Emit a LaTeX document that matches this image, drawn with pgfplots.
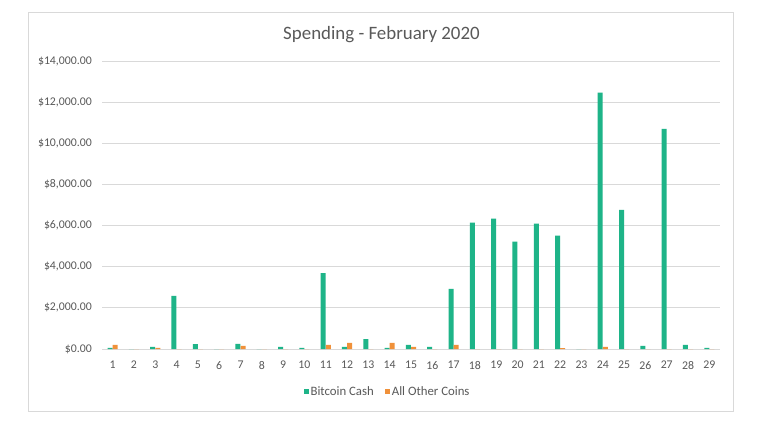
\documentclass[border=0pt]{standalone}
\usepackage{pgfplots}
\pgfplotsset{compat=1.18}
\usepackage{fontspec}
\setmainfont{Carlito}
\definecolor{bch}{RGB}{30,180,136}
\definecolor{oth}{RGB}{240,145,58}
\definecolor{gridc}{RGB}{217,217,217}
\definecolor{txt}{RGB}{89,89,89}
\begin{document}
\begin{tikzpicture}[x=1bp,y=1bp]
\path[use as bounding box,fill=white] (0,0) rectangle (758,429);
\draw[gridc,line width=0.8bp] (28.5,17.5) rectangle (733.5,416.5);
\node[text=txt,font=\fontsize{18.9bp}{22bp}\selectfont] at (381.5,394) {Spending - February 2020};
\begin{axis}[
  at={(102bp,80bp)}, anchor=south west,
  scale only axis, width=618bp, height=288bp,
  xmin=0.5, xmax=29.5, ymin=0, ymax=14000,
  ybar, bar width=5bp,
  axis line style={draw=none},
  major tick length=0pt,
  scaled y ticks=false,
  ymajorgrids, grid style={gridc,line width=0.8bp},
  xtick={1,...,29},
  ytick={0,2000,4000,6000,8000,10000,12000,14000},
  yticklabels={{\$0.00},{\$2,000.00},{\$4,000.00},{\$6,000.00},{\$8,000.00},{\$10,000.00},{\$12,000.00},{\$14,000.00}},
  /pgf/number format/assume math mode=true,
  ticklabel style={text=txt,font=\fontsize{11.8bp}{14bp}\selectfont},
  yticklabel style={inner sep=0pt, xshift=-10bp},
  xticklabel style={inner sep=0pt, yshift=-12bp},
  legend columns=2,
  legend style={at={(0.462,-0.149)}, anchor=center, draw=none, fill=none,
    font=\fontsize{12.8bp}{15bp}\selectfont, text=txt,
    /tikz/every even column/.append style={column sep=9bp}},
  legend image code/.code={\fill[#1] (0bp,-2.5bp) rectangle (5bp,2.5bp);},
]
\addplot[fill=bch, draw=none, bar shift=-2.6bp] coordinates {
(1,50) (2,0) (3,100) (4,2580) (5,240) (6,0) (7,250) (8,0) (9,100) (10,50)
(11,3690) (12,100) (13,480) (14,50) (15,200) (16,100) (17,2920) (18,6140) (19,6340) (20,5220)
(21,6090) (22,5510) (23,0) (24,12460) (25,6760) (26,150) (27,10700) (28,200) (29,50)
};
\addlegendentry{Bitcoin Cash}
\addplot[fill=oth, draw=none, bar shift=2.5bp] coordinates {
(1,200) (2,0) (3,50) (4,0) (5,0) (6,0) (7,150) (8,0) (9,0) (10,0)
(11,200) (12,300) (13,0) (14,300) (15,100) (16,0) (17,200) (18,0) (19,0) (20,0)
(21,0) (22,40) (23,0) (24,100) (25,0) (26,0) (27,0) (28,0) (29,0)
};
\addlegendentry{All Other Coins}
\end{axis}
\end{tikzpicture}
\end{document}
